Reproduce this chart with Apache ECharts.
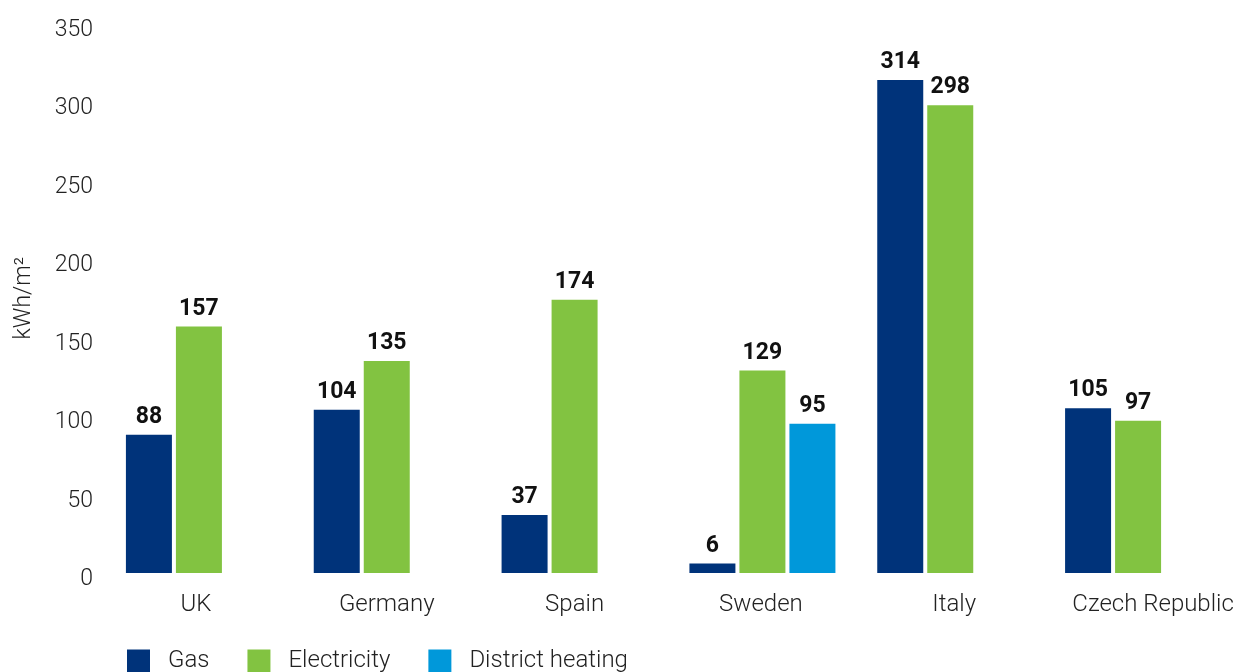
<!DOCTYPE html>
<html>
<head>
<meta charset="utf-8">
<script src="https://cdn.jsdelivr.net/npm/echarts@6/dist/echarts.min.js"></script>
<style>html,body{margin:0;padding:0;background:#fff;}#main{width:1235px;height:672px;}</style>
</head>
<body>
<div id="main"></div>
<script>
const categories = ['UK', 'Germany', 'Spain', 'Sweden', 'Italy', 'Czech Republic'];
const gas = [88, 104, 37, 6, 314, 105];
const electricity = [157, 135, 174, 129, 298, 97];
const districtHeating = [null, null, null, 95, null, null];
const seriesNames = ['Gas', 'Electricity', 'District heating'];
const yTicks = [0, 50, 100, 150, 200, 250, 300, 350];

// horizontal nudges of the category labels (layout only)
const labelShift = [-3, 0, 0, -1.5, 4, 15];

const colors = ['#00337A', '#82C341', '#0098DA'];
const FONT = 'Roboto';

const chart = echarts.init(document.getElementById('main'));
const labelCfg = {
  show: true, position: 'top', distance: 6,
  color: '#111', fontFamily: FONT, fontWeight: 'bold', fontSize: 23
};
function mkSeries(name, data, color) {
  return {
    name: name, type: 'bar', data: data,
    barWidth: 46, barGap: '8.7%',
    itemStyle: { color: color },
    label: labelCfg
  };
}
const xData = categories.map(function (c, i) {
  const s = labelShift[i];
  return {
    value: c,
    textStyle: { padding: s >= 0 ? [0, 0, 0, 2 * s] : [0, -2 * s, 0, 0] }
  };
});
chart.setOption({
  animation: false,
  grid: { left: 105, right: 3, top: 23.5, bottom: 99, containLabel: false, outerBoundsMode: 'none' },
  legend: {
    left: 122, top: 644, padding: 5, itemWidth: 23, itemHeight: 23, itemGap: 38,
    icon: 'rect',
    data: seriesNames,
    textStyle: { fontFamily: FONT, fontWeight: 300, fontSize: 24, color: '#222', padding: [0, 0, 0, 13] }
  },
  xAxis: {
    type: 'category', data: xData,
    axisLine: { show: false }, axisTick: { show: false },
    axisLabel: { margin: 20, fontFamily: FONT, fontWeight: 300, fontSize: 24, color: '#222', interval: 0 }
  },
  yAxis: {
    type: 'value', min: yTicks[0], max: yTicks[yTicks.length - 1], interval: 50,
    name: 'kWh/m²', nameLocation: 'middle', nameGap: 69,
    nameTextStyle: { fontFamily: FONT, fontWeight: 300, fontSize: 23, color: '#222' },
    axisLine: { show: false }, axisTick: { show: false }, splitLine: { show: false },
    axisLabel: {
      margin: 12, color: '#222',
      formatter: '{v|{value}}',
      rich: { v: { fontFamily: FONT, fontWeight: 300, fontSize: 23, color: '#222', lineHeight: 36, verticalAlign: 'bottom' } }
    }
  },
  series: [
    mkSeries(seriesNames[0], gas, colors[0]),
    mkSeries(seriesNames[1], electricity, colors[1]),
    mkSeries(seriesNames[2], districtHeating, colors[2])
  ]
});
</script>
</body>
</html>
